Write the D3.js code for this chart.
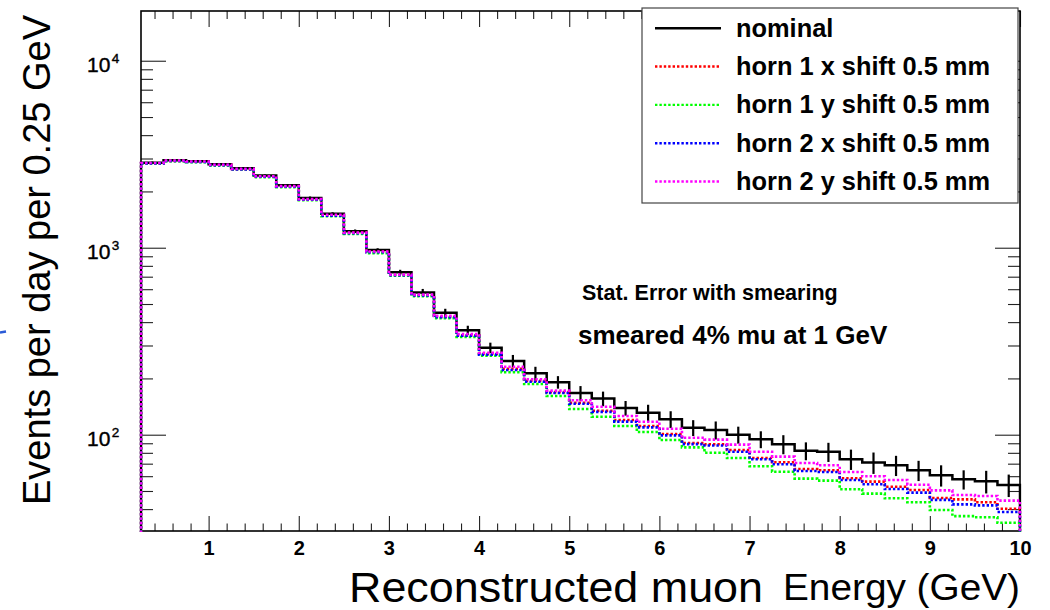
<!DOCTYPE html>
<html lang="en">
<head>
<meta charset="utf-8">
<title>Reconstructed muon energy</title>
<script src="https://d3js.org/d3.v7.min.js" charset="utf-8"></script>
<style>
  body { margin: 0; background: #fff; }
  svg { display: block; font-family: "Liberation Sans", Arial, Helvetica, sans-serif; }
</style>
</head>
<body>
<svg id="chart" width="1050" height="610"></svg>
<script>
// bin edges in GeV (0.25 GeV bins)
var binEdges = [0.25, 0.5, 0.75, 1.0, 1.25, 1.5, 1.75, 2.0, 2.25, 2.5, 2.75, 3.0, 3.25, 3.5, 3.75, 4.0,
  4.25, 4.5, 4.75, 5.0, 5.25, 5.5, 5.75, 6.0, 6.25, 6.5, 6.75, 7.0, 7.25, 7.5, 7.75, 8.0,
  8.25, 8.5, 8.75, 9.0, 9.25, 9.5, 9.75, 10.0];

var nominal = [2850, 2935, 2900, 2795, 2660, 2430, 2160, 1845, 1520, 1225, 972, 739, 577, 449, 362,
  292, 248, 213, 191, 167, 156, 139, 131, 121, 109, 106, 100, 94.5, 89, 82, 81, 74, 71, 68.6,
  64.5, 60.7, 57.7, 56.3, 53.8];
var nominalErr = [40, 42, 42, 40, 38, 36, 34, 32, 28, 25, 22, 23, 25, 22.5, 20.6, 18.6, 19, 17.8,
  14.7, 15, 14, 12.5, 13.6, 12.5, 10.6, 11.7, 10.4, 9.8, 10.4, 9.0, 9.5, 9.2, 9.3, 8.5, 8.0, 7.9,
  6.8, 7.8, 7.4];
var horn1x = [2830, 2915, 2880, 2770, 2630, 2400, 2125, 1810, 1490, 1200, 950, 715, 557, 427, 340,
  271, 225, 194.5, 169, 148.3, 134.4, 119.8, 111.3, 100.9, 90.3, 88.9, 82.8, 75.1, 71.2, 65.5,
  64.5, 58.5, 56.1, 52.7, 50.6, 45.9, 45.1, 43.5, 40.2];
var horn1y = [2820, 2905, 2865, 2755, 2615, 2385, 2110, 1795, 1475, 1185, 935, 708, 550, 420, 333,
  264.5, 215.7, 186.7, 161, 137.2, 124.8, 111.3, 103.4, 93.7, 85.6, 80.1, 75, 67.8, 63.4, 58.2,
  56.8, 51.1, 48.4, 45.7, 43.5, 39.6, 36.7, 36.2, 33.8];
var horn2x = [2825, 2910, 2875, 2765, 2625, 2395, 2120, 1805, 1485, 1195, 945, 712, 555, 425, 338,
  268, 222, 192, 167, 146.5, 132.5, 117.5, 109.5, 99.2, 89, 87.5, 81.1, 73.9, 69.5, 64, 63.2,
  57.3, 54.3, 51.2, 49, 44.8, 42.4, 41.9, 38.6];
var horn2y = [2840, 2925, 2890, 2780, 2640, 2410, 2135, 1820, 1500, 1205, 955, 718, 561, 432, 345,
  274.5, 231, 197.8, 172, 152.8, 141.1, 125.9, 117.3, 107.6, 96.4, 94.1, 88.5, 81.1, 76.3, 70.6,
  68.6, 63.2, 59.9, 57.3, 54, 50.4, 47.6, 47, 44.4];

var xTickValues = [1, 2, 3, 4, 5, 6, 7, 8, 9, 10];
var xTickLabels = ["1", "2", "3", "4", "5", "6", "7", "8", "9", "10"];
var yTickValues = [100, 1000, 10000];
var yTickExps = ["2", "3", "4"];

var legendLabels = ["nominal", "horn 1 x shift 0.5 mm", "horn 1 y shift 0.5 mm",
  "horn 2 x shift 0.5 mm", "horn 2 y shift 0.5 mm"];

var series = [
  { label: legendLabels[1], values: horn1x, color: "#ff0000" },
  { label: legendLabels[2], values: horn1y, color: "#00ff00" },
  { label: legendLabels[3], values: horn2x, color: "#0000ff" },
  { label: legendLabels[4], values: horn2y, color: "#ff00ff" }
];

var svg = d3.select("#chart");
// frame edges (note: "top" is reserved on window, so use pad* names)
var padL = 141, padR = 1020, padT = 11, padB = 531;

var x = d3.scaleLinear().domain([0.25, 10]).range([padL, padR]);
var y = d3.scaleLog().domain([30.55, 18450]).range([padB, padT]);

svg.append("rect").attr("width", 1050).attr("height", 610).attr("fill", "#fff");

// stray blue mark at the far left of the slide
svg.append("line")
  .attr("x1", 0).attr("y1", 332.5).attr("x2", 6).attr("y2", 331.5)
  .attr("stroke", "#2a5bd7").attr("stroke-width", 2.5);

svg.append("clipPath").attr("id", "plotClip")
  .append("rect").attr("x", padL - 1.5).attr("y", padT).attr("width", padR - padL + 3).attr("height", padB - padT + 1);

// ---- axes (ticks point inwards, ROOT style)
var minorX = d3.range(0.4, 10, 0.2).filter(function(d) { return Math.abs(d - Math.round(d)) > 0.01; });
var minorY = [];
[10, 100, 1000].forEach(function(dec) {
  for (var k = 2; k <= 9; k++) {
    var v = k * dec;
    if (v > y.domain()[0] && v < y.domain()[1]) minorY.push(v);
  }
});

function styleAxis(g) {
  g.select(".domain").remove();
  g.attr("color", "#222");
  g.selectAll(".tick line").attr("stroke-width", 1.1);
}

svg.append("g").attr("transform", "translate(0," + padB + ")")
  .call(d3.axisBottom(x).tickValues(minorX).tickSizeInner(-7.5).tickSizeOuter(0).tickFormat(""))
  .call(styleAxis);
svg.append("g").attr("class", "xmajor").attr("transform", "translate(0," + padB + ")")
  .call(d3.axisBottom(x).tickValues(xTickValues).tickSizeInner(-15).tickSizeOuter(0).tickPadding(10)
    .tickFormat(function(d, i) { return xTickLabels[i]; }))
  .call(styleAxis);
svg.selectAll(".xmajor text")
  .attr("font-size", 20).attr("font-weight", "bold").attr("fill", "#000").attr("dy", "0.72em")
  .attr("font-family", "'Liberation Sans', Arial, sans-serif");

svg.append("g").attr("transform", "translate(0," + padT + ")")
  .call(d3.axisTop(x).tickValues(minorX).tickSizeInner(-8).tickSizeOuter(0).tickFormat(""))
  .call(styleAxis);
svg.append("g").attr("transform", "translate(0," + padT + ")")
  .call(d3.axisTop(x).tickValues(xTickValues).tickSizeInner(-16).tickSizeOuter(0).tickFormat(""))
  .call(styleAxis);

svg.append("g").attr("transform", "translate(" + padL + ",0)")
  .call(d3.axisLeft(y).tickValues(minorY).tickSizeInner(-12).tickSizeOuter(0).tickFormat(""))
  .call(styleAxis);
svg.append("g").attr("transform", "translate(" + padL + ",0)")
  .call(d3.axisLeft(y).tickValues(yTickValues).tickSizeInner(-25).tickSizeOuter(0).tickFormat(""))
  .call(styleAxis);
svg.append("g").attr("transform", "translate(" + padR + ",0)")
  .call(d3.axisRight(y).tickValues(minorY).tickSizeInner(-12).tickSizeOuter(0).tickFormat(""))
  .call(styleAxis);
svg.append("g").attr("transform", "translate(" + padR + ",0)")
  .call(d3.axisRight(y).tickValues(yTickValues).tickSizeInner(-25).tickSizeOuter(0).tickFormat(""))
  .call(styleAxis);

// y tick labels 10^n
var ylab = svg.append("g").selectAll("text").data(yTickValues).enter().append("text")
  .attr("x", 87).attr("y", function(d) { return y(d) + 11.5; })
  .attr("font-size", 21).attr("fill", "#000").attr("stroke", "#000").attr("stroke-width", 0.4);
ylab.append("tspan").text("10");
ylab.append("tspan").attr("dx", 1.5).attr("dy", -9).attr("font-size", 13.5)
  .text(function(d, i) { return yTickExps[i]; });

// frame (drawn under the histograms so the dotted left edge shows on it)
svg.append("rect").attr("x", padL).attr("y", padT).attr("width", padR - padL).attr("height", padB - padT)
  .attr("fill", "none").attr("stroke", "#000").attr("stroke-width", 1.6);

// ---- histograms
function histPath(vals) {
  var y0 = padB + 2;
  var pts = [[x(binEdges[0]), y0]];
  vals.forEach(function(v, i) {
    pts.push([x(binEdges[i]), y(v)]);
    pts.push([x(binEdges[i + 1]), y(v)]);
  });
  pts.push([x(binEdges[binEdges.length - 1]), y0]);
  return d3.line()(pts);
}

var plot = svg.append("g").attr("clip-path", "url(#plotClip)");

plot.append("path").attr("d", histPath(nominal))
  .attr("fill", "none").attr("stroke", "#000").attr("stroke-width", 2.5);

plot.append("g").selectAll("line").data(nominal).enter().append("line")
  .attr("x1", function(d, i) { return x((binEdges[i] + binEdges[i + 1]) / 2); })
  .attr("x2", function(d, i) { return x((binEdges[i] + binEdges[i + 1]) / 2); })
  .attr("y1", function(d, i) { return y(d + nominalErr[i]); })
  .attr("y2", function(d, i) { return y(d - nominalErr[i]); })
  .attr("stroke", "#000").attr("stroke-width", 2.2);

plot.selectAll("path.shift").data(series).enter().append("path")
  .attr("class", "shift")
  .attr("d", function(s) { return histPath(s.values); })
  .attr("fill", "none")
  .attr("stroke", function(s) { return s.color; })
  .attr("stroke-width", 2.6)
  .attr("stroke-dasharray", "2.4,2");

// ---- annotations
svg.append("text").attr("x", 582).attr("y", 300).attr("font-size", 21.5).attr("font-weight", "bold")
  .text("Stat. Error with smearing");
svg.append("text").attr("x", 578).attr("y", 344).attr("font-size", 26).attr("font-weight", "bold")
  .text("smeared 4% mu at 1 GeV");

// axis titles
svg.append("text").attr("transform", "translate(50,260) rotate(-90)")
  .attr("text-anchor", "middle").attr("font-size", 38).attr("fill", "#000")
  .text("Events per day per 0.25 GeV");
svg.append("text").attr("x", 349).attr("y", 602).attr("font-size", 43)
  .attr("textLength", 414).attr("lengthAdjust", "spacingAndGlyphs")
  .text("Reconstructed muon");
svg.append("text").attr("x", 783).attr("y", 600).attr("font-size", 36)
  .attr("textLength", 237).attr("lengthAdjust", "spacingAndGlyphs")
  .text("Energy (GeV)");

// ---- legend
var legend = svg.append("g");
legend.append("rect").attr("x", 642).attr("y", 8).attr("width", 376).attr("height", 195)
  .attr("fill", "#fff").attr("stroke", "#444").attr("stroke-width", 1.2);

var legendItems = [{ label: legendLabels[0], color: "#000", dash: null }].concat(
  series.map(function(s) { return { label: s.label, color: s.color, dash: "2.4,2" }; }));

var rowY = d3.scalePoint().domain(d3.range(legendItems.length)).range([36.7, 190]);
var rows = legend.selectAll("g.row").data(legendItems).enter().append("g").attr("class", "row")
  .attr("transform", function(d, i) { return "translate(0," + rowY(i) + ")"; });
rows.append("line").attr("x1", 655).attr("x2", 721).attr("y1", -8.5).attr("y2", -8.5)
  .attr("stroke", function(d) { return d.color; })
  .attr("stroke-width", 2.4)
  .attr("stroke-dasharray", function(d) { return d.dash; });
rows.append("text").attr("x", 736).attr("y", 0)
  .attr("font-size", 25.4).attr("font-weight", "bold").attr("fill", "#000")
  .text(function(d) { return d.label; });
</script>
</body>
</html>
